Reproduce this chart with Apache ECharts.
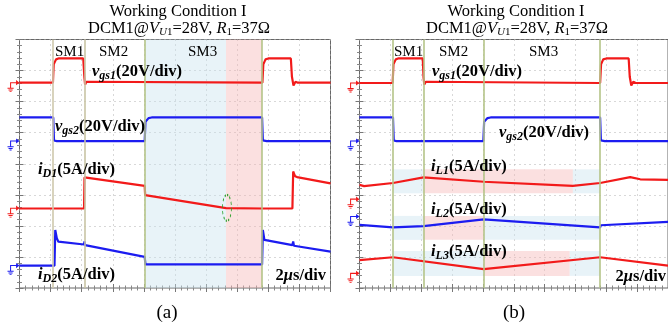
<!DOCTYPE html>
<html><head><meta charset="utf-8">
<script src="https://cdn.jsdelivr.net/npm/echarts@6/dist/echarts.min.js"></script>
<style>html,body{margin:0;padding:0;background:#fff;}#c{width:668px;height:327px;}</style>
</head><body><div id="c"></div>
<script>
// time in us (2us/div), vertical in divisions (0 = bottom of screen, 8 = top)
const aVgs1 = [[0,6.61],[2.15,6.61],[2.2,7.2],[2.35,7.36],[2.5,7.39],[4.1,7.39],[4.17,6.8],[4.22,6.55],[4.3,6.64],[4.4,6.61],[15.62,6.61],[15.68,7.2],[15.82,7.36],[16,7.39],[17.45,7.39],[17.52,6.8],[17.62,6.52],[17.75,6.64],[17.9,6.61],[20,6.61]];
const aVgs2 = [[0,5.49],[2.17,5.49],[2.22,4.75],[2.3,4.7],[2.4,4.73],[8.05,4.73],[8.1,5.35],[8.3,5.47],[8.5,5.49],[15.6,5.49],[15.65,4.75],[15.75,4.7],[15.9,4.73],[20,4.73]];
const aID1 = [[0,2.56],[2.2,2.56],[2.25,2.62],[2.3,2.56],[4.15,2.56],[4.18,3.56],[8.05,3.29],[8.08,2.99],[13.28,2.57],[15.6,2.56],[15.63,2.5],[15.7,2.56],[17.55,2.56],[17.6,3.75],[17.72,3.6],[17.85,3.57],[20,3.37]];
const aID2 = [[0,0.72],[2.25,0.72],[2.3,1.87],[2.4,1.6],[2.5,1.49],[4.15,1.4],[4.18,1.5],[4.22,1.38],[8.05,1.0],[8.1,0.76],[15.6,0.76],[15.65,1.87],[15.75,1.55],[15.85,1.5],[17.55,1.38],[17.6,1.5],[17.65,1.36],[20,1.17]];
const bVgs1 = [[0,6.6],[2.15,6.6],[2.2,7.2],[2.35,7.36],[2.5,7.39],[4.1,7.39],[4.15,6.8],[4.2,6.55],[4.3,6.64],[4.4,6.6],[15.6,6.6],[15.66,7.2],[15.8,7.36],[16,7.39],[17.45,7.39],[17.52,6.8],[17.62,6.52],[17.75,6.64],[17.9,6.6],[20,6.6]];
const bVgs2 = [[0,5.49],[2.17,5.49],[2.22,4.75],[2.3,4.7],[2.4,4.73],[8.03,4.73],[8.08,5.35],[8.3,5.47],[8.5,5.49],[15.6,5.49],[15.65,4.75],[15.75,4.7],[15.9,4.73],[20,4.73]];
const bIL1 = [[0,3.32],[0.3,3.28],[2.17,3.38],[4.15,3.56],[8.05,3.42],[13.83,3.29],[15.6,3.38],[17.55,3.57],[18.2,3.5],[20,3.48]];
const bIL2 = [[0,2.03],[2.17,1.95],[4.15,1.99],[8.05,2.21],[15.6,1.95],[15.65,2.02],[20,2.13]];
const bIL3 = [[0,0.9],[2.17,0.99],[8.05,0.61],[15.6,0.99],[20,0.72]];
const aGround = {vgs1:6.61, vgs2:4.73, iD1:2.57, iD2:0.72};
const bGround = {vgs1:6.6, vgs2:4.73, iL1:2.86, iL2:2.3, iL3:0.47};
const aBounds = [2.17, 4.17, 8.07, 15.6];
const bBounds = [2.17, 4.15, 8.05, 15.6];
const aShadeBlue = [[8.07,13.28]];
const aShadePink = [[13.28,15.6]];
// bands in panel b: [t0, t1, y0, y1]
const bBandsBlue = [[2.17,4.15,3.05,3.82],[13.83,15.6,3.05,3.82],[2.17,4.15,1.55,2.32],[8.05,15.6,1.55,2.32],[2.17,8.05,0.39,1.19],[13.62,15.6,0.39,1.19]];
const bBandsPink = [[4.15,13.83,3.05,3.82],[4.15,8.05,1.55,2.32],[8.05,13.62,0.39,1.19]];
const aEllipse = [13.34, 2.58];

const RED = '#f21a1a', BLUE = '#1c1cf0';
const BLUEOV = 'rgba(200,226,238,0.42)', PINKOV = 'rgba(245,180,180,0.42)';
const SERIF = 'Liberation Serif';
const GND = 'path://M2 2.4H9V3.6H2Z M9 0L13 3L9 6Z M2 2.4H3.2V9H2Z M-1 9H6.2V10.2H-1Z M0.2 11H5V12.2H0.2Z M1.4 13H3.8V14H1.4Z';

function xAx(gi, pos, split){
  return {type:'value', gridIndex:gi, position:pos, min:0, max:20, interval:2,
    axisLine:{show:false}, axisLabel:{show:false},
    axisTick:{show:true, inside:true, length:4, lineStyle:{color:'#777'}},
    minorTick:{show:true, splitNumber:5, length:2.5, lineStyle:{color:'#888'}},
    splitLine:{show:split, lineStyle:{color:'#b0b0b0', type:[1,4]}}};
}
function yAx(gi, pos, split){
  return {type:'value', gridIndex:gi, position:pos, min:0, max:8, interval:1,
    axisLine:{show:false}, axisLabel:{show:false},
    axisTick:{show:true, inside:true, length:4, lineStyle:{color:'#777'}},
    minorTick:{show:true, splitNumber:5, length:2.5, lineStyle:{color:'#888'}},
    splitLine:{show:split, lineStyle:{color:'#b0b0b0', type:[1,4]}}};
}
function trace(gi, data, color, gnd){
  return {type:'line', xAxisIndex:gi*2, yAxisIndex:gi*2, data:data, showSymbol:false, symbol:'none',
    lineStyle:{color:color, width:2.2}, z:2, animation:false, silent:true,
    markPoint:{silent:true, animation:false, symbol:GND, symbolSize:12, symbolKeepAspect:true, symbolOffset:[-6,3.4],
      itemStyle:{color:color}, label:{show:false}, data:[{coord:[0,gnd]}]}};
}
function overlay(gi, blue, pink){
  const d = [];
  blue.forEach(b=>d.push([{xAxis:b[0], yAxis:b[2], itemStyle:{color:BLUEOV}},{xAxis:b[1], yAxis:b[3]}]));
  pink.forEach(b=>d.push([{xAxis:b[0], yAxis:b[2], itemStyle:{color:PINKOV}},{xAxis:b[1], yAxis:b[3]}]));
  return {type:'line', xAxisIndex:gi*2, yAxisIndex:gi*2, data:[], z:5, silent:true, animation:false,
    markArea:{silent:true, animation:false, label:{show:false}, data:d}};
}
function vlines(gi, xs, colors){
  return {type:'line', xAxisIndex:gi*2, yAxisIndex:gi*2, data:[], z:3, silent:true, animation:false,
    markLine:{silent:true, animation:false, symbol:'none', label:{show:false},
      lineStyle:{color:'#b4c488', width:1.6, type:'solid'},
      data:xs.map((x,k)=>({xAxis:x, lineStyle:{color:colors[k]}}))}};
}
const seriesA = [
  trace(0, aVgs1, RED, aGround.vgs1), trace(0, aVgs2, BLUE, aGround.vgs2),
  trace(0, aID1, RED, aGround.iD1), trace(0, aID2, BLUE, aGround.iD2),
  overlay(0, aShadeBlue.map(s=>[s[0],s[1],0,8]), aShadePink.map(s=>[s[0],s[1],0,8])),
  vlines(0, aBounds, ['#cfc8ac','#c8c4a4','#b4c488','#b4c488']),
  {type:'line', xAxisIndex:0, yAxisIndex:0, data:[], z:6, silent:true, animation:false,
    markPoint:{silent:true, animation:false, symbol:'circle', symbolSize:[9,26], label:{show:false},
      itemStyle:{color:'rgba(0,0,0,0)', borderColor:'#2aa02a', borderWidth:1.3, borderType:[2,2]},
      data:[{coord:aEllipse}]}}
];
const seriesB = [
  trace(1, bVgs1, RED, bGround.vgs1), trace(1, bVgs2, BLUE, bGround.vgs2),
  trace(1, bIL1, RED, bGround.iL1), trace(1, bIL2, BLUE, bGround.iL2), trace(1, bIL3, RED, bGround.iL3),
  overlay(1, bBandsBlue, bBandsPink),
  vlines(1, bBounds, ['#b4c488','#b4c488','#b4c488','#b4c488'])
];

const rich = {
  n:{fontFamily:SERIF, fontWeight:'bold', fontSize:16.5, lineHeight:20, color:'#000'},
  i:{fontFamily:SERIF, fontWeight:'bold', fontStyle:'italic', fontSize:16.5, lineHeight:20, color:'#000'},
  s:{fontFamily:SERIF, fontWeight:'bold', fontStyle:'italic', fontSize:12, lineHeight:11, verticalAlign:'bottom', color:'#000'},
  r:{fontFamily:SERIF, fontSize:15, lineHeight:18, color:'#000'},
  t:{fontFamily:SERIF, fontSize:16.5, lineHeight:18, color:'#222'},
  ti:{fontFamily:SERIF, fontStyle:'italic', fontSize:16.5, lineHeight:18, color:'#222'},
  ts:{fontFamily:SERIF, fontStyle:'italic', fontSize:11, lineHeight:10, verticalAlign:'bottom', color:'#222'},
  tsr:{fontFamily:SERIF, fontSize:11, lineHeight:10, verticalAlign:'bottom', color:'#222'},
  p:{fontFamily:SERIF, fontSize:19, lineHeight:22, color:'#111'}
};
function lab(x, y, text, align){
  return {type:'text', x:x, y:y, silent:true, z:100,
    style:{text:text, rich:rich, align:align||'left', verticalAlign:'middle', fontFamily:SERIF, fontSize:15, fill:'#000'}};
}
const title1 = '{t|Working Condition I}';
const title2 = '{t|DCM1@}{ti|V}{ts|U}{tsr|1}{t|=28V, }{ti|R}{tsr|1}{t|=37Ω}';
const graphics = [
  lab(178, 12, title1, 'center'), lab(179, 29, title2, 'center'),
  lab(55, 52, '{r|SM1}'), lab(99, 52, '{r|SM2}'), lab(188, 52, '{r|SM3}'),
  lab(92, 72, '{i|v}{s|gs1}{n|(20V/div)}'),
  lab(55, 127, '{i|v}{s|gs2}{n|(20V/div)}'),
  lab(38, 170, '{i|i}{s|D1}{n|(5A/div)}'),
  lab(38, 275, '{i|i}{s|D2}{n|(5A/div)}'),
  lab(326, 276, '{n|2}{i|μ}{n|s/div}', 'right'),
  lab(167, 313, '{p|(a)}', 'center'),
  lab(516, 12, title1, 'center'), lab(517, 29, title2, 'center'),
  lab(394, 52, '{r|SM1}'), lab(439, 52, '{r|SM2}'), lab(529, 52, '{r|SM3}'),
  lab(432, 72, '{i|v}{s|gs1}{n|(20V/div)}'),
  lab(499, 133, '{i|v}{s|gs2}{n|(20V/div)}'),
  lab(431, 167, '{i|i}{s|L1}{n|(5A/div)}'),
  lab(431, 210, '{i|i}{s|L2}{n|(5A/div)}'),
  lab(431, 252, '{i|i}{s|L3}{n|(5A/div)}'),
  lab(666, 277, '{n|2}{i|μ}{n|s/div}', 'right'),
  lab(514, 313, '{p|(b)}', 'center')
];

const chart = echarts.init(document.getElementById('c'), null, {renderer:'canvas'});
chart.setOption({
  animation:false,
  backgroundColor:'#fff',
  grid:[
    {left:19.5, top:39.5, width:311, height:248.5, show:true, borderColor:'#666', borderWidth:1, backgroundColor:'rgba(0,0,0,0)'},
    {left:359.5, top:39.5, width:311, height:248.5, show:true, borderColor:'#666', borderWidth:1, backgroundColor:'rgba(0,0,0,0)'}
  ],
  xAxis:[xAx(0,'bottom',true), xAx(0,'top',false), xAx(1,'bottom',true), xAx(1,'top',false)],
  yAxis:[yAx(0,'left',true), yAx(0,'right',false), yAx(1,'left',true), yAx(1,'right',false)],
  series: seriesA.concat(seriesB),
  graphic: graphics
});
</script></body></html>
